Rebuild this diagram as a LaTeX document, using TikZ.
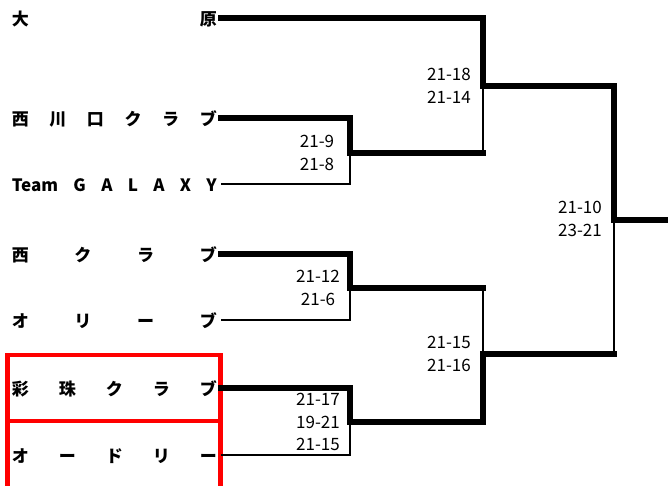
\documentclass[tikz,border=0pt]{standalone}
\usepackage{fontspec}
\setmainfont{Noto Sans CJK JP}
\usepackage{tikz}
\definecolor{markred}{RGB}{255,0,0}
\newcommand{\spread}[1]{\makebox[205pt][s]{#1}}

\begin{document}
\begin{tikzpicture}[x=1pt, y=-1pt, line join=miter,
win/.style={line width=6pt, line cap=rect}, lose/.style={line width=2.8pt},
team/.style={anchor=east, inner sep=0pt, text height=15pt, text depth=0pt,
font=\fontsize{17}{17}\selectfont\bfseries},
score/.style={align=center, inner sep=0pt, font=\fontsize{17}{22.5}\selectfont},
pick/.style={draw=markred, line width=4.5pt}]
  \useasboundingbox (0,0) rectangle (668,485);
  % highlight
  \draw[pick] (7.5,355) rectangle (220.5,421);
  \draw[pick] (7.5,421) rectangle (220.5,495);
  % teams
  \node[team] (t1) at (217,18)  {\spread{大\hfill 原}};
  \node[team] (t2) at (217,118) {\spread{西\hfill 川\hfill 口\hfill ク\hfill ラ\hfill ブ}};
  \node[team] (t3) at (217,184) {\spread{Team\hfill G\hfill A\hfill L\hfill A\hfill X\hfill Y}};
  \node[team] (t4) at (217,254) {\spread{西\hfill ク\hfill ラ\hfill ブ}};
  \node[team] (t5) at (217,320) {\spread{オ\hfill リ\hfill ー\hfill ブ}};
  \node[team] (t6) at (217,388) {\spread{彩\hfill 珠\hfill ク\hfill ラ\hfill ブ}};
  \node[team] (t7) at (217,455) {\spread{オ\hfill ー\hfill ド\hfill リ\hfill ー}};
  \foreach \i/\y in {1/18,2/118,3/184,4/254,5/320,6/388,7/455}
    \coordinate (o\i) at (221,\y);
  % round 1
  \coordinate (m11) at (350,153);
  \coordinate (m12) at (350,288);
  \coordinate (m13) at (350,422);
  % round 2
  \coordinate (m21) at (483,86);
  \coordinate (m22) at (483,354);
  % final
  \coordinate (m31) at (614,220);
  \coordinate (fin) at (672,220);

  % scores
  \node[score] (s11) at (317,153) {21-9\\21-8};
  \node[score] (s12) at (318,288) {21-12\\21-6};
  \node[score] (s13) at (318,422) {21-17\\19-21\\21-15};
  \node[score] (s21) at (449,86)  {21-18\\21-14};
  \node[score] (s22) at (449,354) {21-15\\21-16};
  \node[score] (s31) at (580,219) {21-10\\23-21};

\foreach \from/\to in {o2/m11,o4/m12,o6/m13,o1/m21,m13/m22,m21/m31}
    \draw[win] (\from) -| (\to);
\foreach \from/\to in {o3/m11,o5/m12,o7/m13}
    \draw[lose] (\from) -| (\to);
\foreach \from/\to in {m11/m21,m12/m22,m22/m31} {
    \draw[win] (\from) -- (\from -| \to);
    \draw[lose] (\from -| \to) -- (\to);
}
\draw[win] (m31) -- (fin);
\end{tikzpicture}
\end{document}
